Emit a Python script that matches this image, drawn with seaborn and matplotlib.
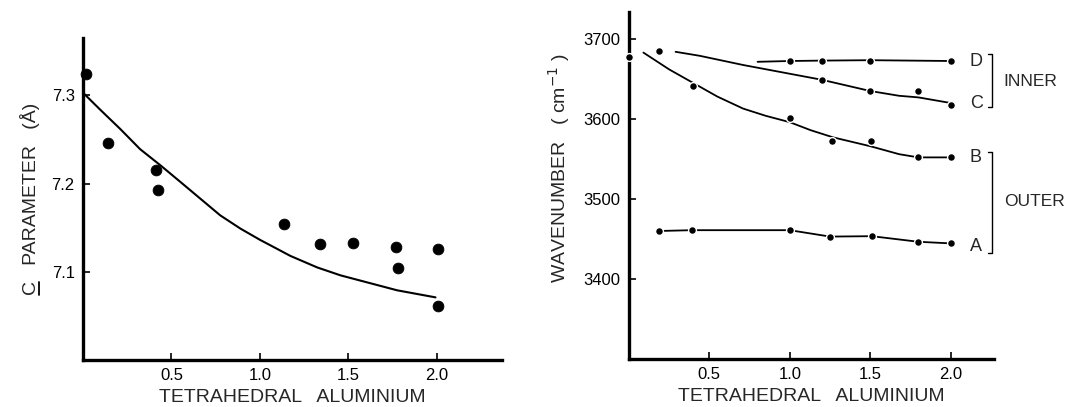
import matplotlib
matplotlib.use('Agg')
import matplotlib.pyplot as plt
from matplotlib.lines import Line2D
import seaborn as sns
import pandas as pd

sns.set_style('ticks')
plt.rcParams['font.family'] = ['Liberation Sans', 'DejaVu Sans']

# ---------------------------------------------------------------
# Left panel: c parameter vs tetrahedral Al
# ---------------------------------------------------------------
c_x = [0.015, 0.144, 0.41, 0.426, 1.135, 1.34, 1.53, 1.77, 1.78, 2.01, 2.01]
c_y = [7.324, 7.246, 7.215, 7.193, 7.154, 7.131, 7.133, 7.128, 7.104, 7.126, 7.061]
curve_x = [0.0, 0.096, 0.21, 0.323, 0.436, 0.55, 0.663, 0.776, 0.89, 1.003,
           1.06, 1.173, 1.324, 1.456, 1.607, 1.777, 1.994]
curve_y = [7.303, 7.284, 7.262, 7.239, 7.221, 7.202, 7.183, 7.164, 7.149, 7.136,
           7.130, 7.118, 7.105, 7.096, 7.088, 7.079, 7.071]

# ---------------------------------------------------------------
# Right panel: OH stretching bands A-D
# ---------------------------------------------------------------
axis_pt_x = [0.0]
axis_pt_y = [3677]

d_x = [1.0, 1.2, 1.5, 2.0]
d_y = [3673, 3673, 3673, 3672.5]
d_line_x = [0.8, 1.0, 1.2, 1.5, 2.0]
d_line_y = [3671.5, 3672.5, 3673, 3673.5, 3672.5]

c_pts_x = [0.186, 1.2, 1.5, 1.8, 2.0]
c_pts_y = [3685, 3649, 3635, 3635, 3618]
c_line_x = [0.29, 0.44, 0.71, 1.2, 1.5, 1.68, 1.8, 2.0]
c_line_y = [3684, 3679, 3667.5, 3649, 3635, 3629, 3627, 3620]

b_x = [0.4, 1.0, 1.26, 1.505, 1.8, 2.0]
b_y = [3641, 3601, 3572, 3572, 3552, 3552]
b_line_x = [0.09, 0.25, 0.4, 0.55, 0.71, 0.85, 1.0, 1.13, 1.27, 1.5, 1.68, 1.8, 2.0]
b_line_y = [3683, 3662, 3645, 3628, 3613, 3604, 3596, 3586, 3577, 3566, 3556, 3552, 3552]

a_x = [0.19, 0.39, 1.0, 1.25, 1.51, 1.8, 2.0]
a_y = [3460, 3461, 3461, 3453, 3453.5, 3446.5, 3444.5]

band_labels = ['D', 'C', 'B', 'A']
band_label_y = [3672, 3619, 3552, 3440]

x_ticks = [0.5, 1.0, 1.5, 2.0]
left_yticks = [7.1, 7.2, 7.3]
right_yticks = [3400, 3500, 3600, 3700]

fig = plt.figure(figsize=(10.66, 4.07), dpi=100)
ax1 = fig.add_axes([0.0779, 0.1155, 0.393, 0.791])
ax2 = fig.add_axes([0.590, 0.118, 0.3425, 0.853])

lw = 1.5
for ax in (ax1, ax2):
    sns.despine(ax=ax)
    for s in ('left', 'bottom'):
        ax.spines[s].set_linewidth(2.4)
        ax.spines[s].set_color('black')
    ax.tick_params(direction='in', length=5, width=1.2, labelsize=12,
                   colors='black', pad=6)
    ax.set_xticks(x_ticks)
    ax.set_xticklabels([f'{t:.1f}' for t in x_ticks])

# left
sns.lineplot(x=curve_x, y=curve_y, ax=ax1, color='black', lw=lw,
             estimator=None, sort=False)
sns.scatterplot(x=c_x, y=c_y, ax=ax1, color='black', s=60,
                edgecolor='black', clip_on=False, zorder=3)
ax1.set_xlim(0, 2.37)
ax1.set_ylim(7.0, 7.365)
ax1.set_yticks(left_yticks)
ax1.set_yticklabels([f'{t:.1f}' for t in left_yticks])
ax1.set_xlabel('TETRAHEDRAL   ALUMINIUM', fontsize=14, labelpad=4)
ax1.set_ylabel('C   PARAMETER   (Å)', fontsize=14, labelpad=8)

# right
lines = [(d_line_x, d_line_y), (c_line_x, c_line_y), (b_line_x, b_line_y), (a_x, a_y)]
for lx, ly in lines:
    sns.lineplot(x=lx, y=ly, ax=ax2, color='black', lw=1.3,
                 estimator=None, sort=False)
pts = pd.DataFrame({
    'x': axis_pt_x + d_x + c_pts_x + b_x + a_x,
    'y': axis_pt_y + d_y + c_pts_y + b_y + a_y,
})
sns.scatterplot(data=pts, x='x', y='y', ax=ax2, color='black', s=32,
                edgecolor='white', linewidth=1.0, clip_on=False, zorder=3)
ax2.set_xlim(0, 2.27)
ax2.set_ylim(3300, 3734)
ax2.set_yticks(right_yticks)
ax2.set_xlabel('TETRAHEDRAL   ALUMINIUM', fontsize=14, labelpad=4)
ax2.set_ylabel('WAVENUMBER   ( cm$^{-1}$ )', fontsize=14, labelpad=8)
ax2.yaxis.set_label_coords(-0.155, 0.55)

for lab, yy in zip(band_labels, band_label_y):
    ax2.text(2.12, yy, lab, fontsize=13, va='center', ha='left')

# brackets
for (top, bot, name, ty) in [(3681, 3615, 'INNER', 3647), (3559, 3433, 'OUTER', 3497)]:
    ax2.plot([2.23, 2.26, 2.26, 2.23], [top, top, bot, bot], color='black',
             lw=1.0, clip_on=False)
    ax2.text(2.33, ty, name, fontsize=12.5, va='center', ha='left')

# underline the "C" of the left y label (rotated text: baseline side faces the axes)
fig.canvas.draw()
r = fig.canvas.get_renderer()
bb = ax1.yaxis.label.get_window_extent(r)
tmp = fig.text(0, 0, 'C', fontsize=14)
cw = tmp.get_window_extent(r).width
tmp.remove()
fig.add_artist(Line2D([bb.x1 - 1.0, bb.x1 - 1.0], [bb.y0 + 0.5, bb.y0 + cw - 0.5],
                      transform=None, color='black', lw=1.3))

plt.savefig('out.png', dpi=100)
plt.close()
